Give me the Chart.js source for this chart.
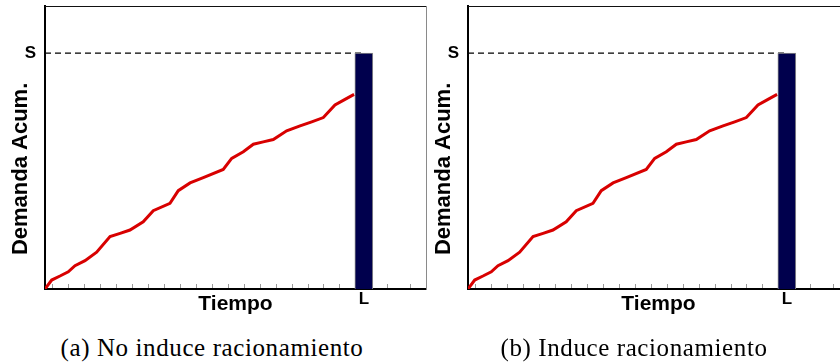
<!DOCTYPE html>
<html>
<head>
<meta charset="utf-8">
<script src="https://cdn.jsdelivr.net/npm/chart.js@4/dist/chart.umd.min.js"></script>
<style>
  html, body { margin: 0; padding: 0; width: 840px; height: 363px; overflow: hidden; background: #fff; }
  .panel { position: absolute; top: 0; }
  .cap { position: absolute; top: 335px; font-family: "Liberation Serif", serif; font-size: 25px; line-height: 25px; letter-spacing: 0.6px; color: #000; white-space: nowrap; transform: translateX(-50%); }
</style>
</head>
<body>
<canvas id="c1" class="panel" width="428" height="330" style="left:0px"></canvas>
<canvas id="c2" class="panel" width="428" height="330" style="left:423px"></canvas>
<div class="cap" style="left:212px">(a) No induce racionamiento</div>
<div class="cap" style="left:634px">(b) Induce racionamiento</div>
<script>
// ---- data ----
const times  = [0, 0.42, 0.94, 1.46, 1.88, 2.51, 3.24, 4.08, 4.71, 5.33, 6.16, 6.79, 7.84, 8.36, 9.10, 9.93, 11.18, 11.71, 12.44, 13.07, 13.69, 14.32, 15.16, 16.00, 16.73, 17.46, 18.19, 18.82, 19.39];
const demand = [0, 0.038, 0.055, 0.073, 0.099, 0.120, 0.156, 0.222, 0.236, 0.250, 0.285, 0.332, 0.363, 0.417, 0.450, 0.472, 0.507, 0.554, 0.582, 0.614, 0.624, 0.634, 0.671, 0.692, 0.709, 0.727, 0.780, 0.804, 0.825];
const S_VALUE = 1;
const L_VALUE = 20;
const yTickLabels = ['S'];
const xTickLabels = ['L'];
const xMax = 23.9;
const yMax = 1.2;

function noPad(s) { s.paddingTop = 0; s.paddingBottom = 0; s.paddingLeft = 0; s.paddingRight = 0; }

function makeChart(id) {
  const demandPoints = times.map((t, i) => ({ x: t, y: demand[i] }));
  const capacityLine = [{ x: 0, y: S_VALUE }, { x: L_VALUE, y: S_VALUE }];
  const leadBar = [{ x: L_VALUE, y: S_VALUE }];
  return new Chart(document.getElementById(id), {
    type: 'line',
    data: {
      datasets: [
        { type: 'bar', data: leadBar, backgroundColor: '#00004d', borderColor: '#8a8a8a', borderWidth: 1, barThickness: 18, order: 0 },
        { data: demandPoints, borderColor: '#d80000', borderWidth: 3, pointRadius: 0, tension: 0, fill: false, order: 1 },
        { data: capacityLine, borderColor: '#000', borderWidth: 1.4, borderDash: [6, 4], pointRadius: 0, fill: false, order: 2 }
      ]
    },
    options: {
      responsive: false,
      animation: false,
      devicePixelRatio: 1,
      layout: { padding: { left: 0, right: 2, top: 6, bottom: 0 } },
      plugins: { legend: { display: false }, tooltip: { enabled: false } },
      scales: {
        x: {
          type: 'linear', position: 'bottom', min: 0, max: xMax, offset: false,
          grid: { display: true, drawOnChartArea: false, drawTicks: true, tickLength: -5, color: '#9a9a9a', lineWidth: 1 },
          border: { display: true, color: '#000', width: 2 },
          ticks: {
            stepSize: 1, autoSkip: false, maxRotation: 0, padding: 5,
            font: { family: 'Liberation Sans', weight: 'bold', size: 17 }, color: '#000',
            callback: (v) => (v === L_VALUE ? xTickLabels[0] : '')
          },
          title: { display: true, text: 'Tiempo', color: '#000', font: { family: 'Liberation Sans', weight: 'bold', size: 21 }, padding: { top: 0, bottom: 13 } },
          afterFit: (s) => { s.height = 41; noPad(s); }
        },
        y: {
          type: 'linear', position: 'left', min: 0, max: yMax,
          grid: { display: false, drawTicks: false },
          border: { display: true, color: '#000', width: 2 },
          ticks: {
            stepSize: 1, autoSkip: false, padding: 9,
            font: { family: 'Liberation Sans', weight: 'bold', size: 17 }, color: '#000',
            callback: (v) => (v === S_VALUE ? yTickLabels[0] : '')
          },
          title: { display: true, text: 'Demanda Acum.       ', color: '#000', font: { family: 'Liberation Sans', weight: 'bold', size: 22 }, padding: { top: 8, bottom: 0 } },
          afterFit: (s) => { s.width = 45; noPad(s); }
        },
        xTop: {
          type: 'linear', position: 'top', min: 0, max: 1,
          grid: { display: false, drawTicks: false },
          border: { display: true, color: '#111', width: 1 },
          ticks: { display: false },
          afterFit: (s) => { s.height = 0; noPad(s); }
        },
        yRight: {
          type: 'linear', position: 'right', min: 0, max: 1,
          grid: { display: false, drawTicks: false },
          border: { display: true, color: '#8a8a8a', width: 1 },
          ticks: { display: false },
          afterFit: (s) => { s.width = 0; noPad(s); }
        }
      }
    }
  });
}
makeChart('c1');
makeChart('c2');
</script>
</body>
</html>
